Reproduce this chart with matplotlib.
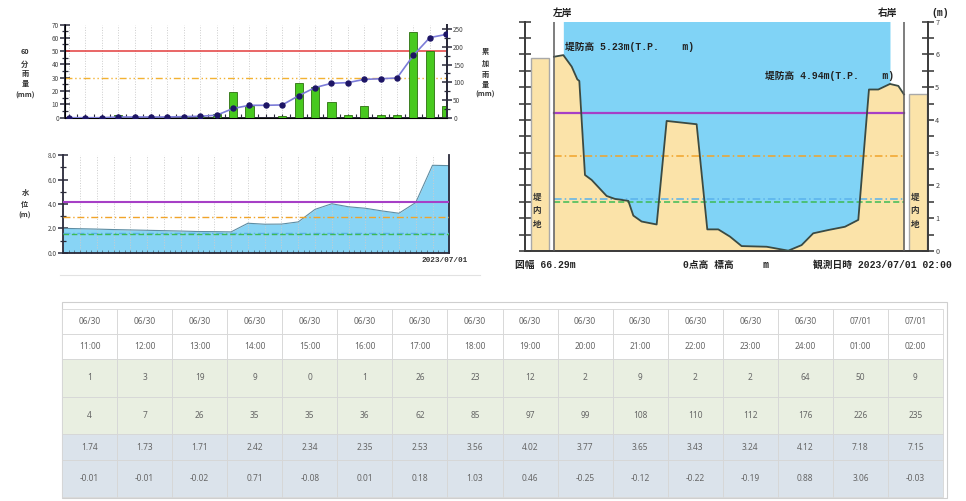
import numpy as np
import matplotlib
matplotlib.use('Agg')
import matplotlib.pyplot as plt
from matplotlib.patches import Rectangle
from matplotlib.ticker import MultipleLocator, FormatStrFormatter

CJK = ['Noto Sans CJK JP', 'DejaVu Sans']
MONO = ['Liberation Mono', 'Noto Sans CJK JP', 'DejaVu Sans']
plt.rcParams['font.family'] = CJK

# ---- table data (last 16 hours) ----
dates = ['06/30', '06/30', '06/30', '06/30', '06/30', '06/30', '06/30', '06/30',
         '06/30', '06/30', '06/30', '06/30', '06/30', '06/30', '07/01', '07/01']
times = ['11:00', '12:00', '13:00', '14:00', '15:00', '16:00', '17:00', '18:00',
         '19:00', '20:00', '21:00', '22:00', '23:00', '24:00', '01:00', '02:00']
rain_60 = [1, 3, 19, 9, 0, 1, 26, 23, 12, 2, 9, 2, 2, 64, 50, 9]
rain_cum = [4, 7, 26, 35, 35, 36, 62, 85, 97, 99, 108, 110, 112, 176, 226, 235]
level = [1.74, 1.73, 1.71, 2.42, 2.34, 2.35, 2.53, 3.56,
         4.02, 3.77, 3.65, 3.43, 3.24, 4.12, 7.18, 7.15]
level_change = [-0.01, -0.01, -0.02, 0.71, -0.08, 0.01, 0.18, 1.03,
                0.46, -0.25, -0.12, -0.22, -0.19, 0.88, 3.06, -0.03]

# 8 earlier hours shown only in the charts
rain_60_early = [0, 0, 0, 2, 0, 0, 0, 1]
rain_cum_early = [0, 0, 0, 2, 2, 2, 2, 3]
level_early = [2.00, 1.97, 1.94, 1.90, 1.87, 1.84, 1.81, 1.78]

rain_lines = [50, 30]
level_lines = [4.2, 2.9, 1.6, 1.5]

# ---- cross section (distance m, elevation m) ----
sec_x = [0.0, 1.77, 3.35, 4.42, 4.80, 5.87, 7.13, 9.97, 11.55, 14.08, 15.03, 16.60,
         19.45, 21.34, 27.02, 29.04, 31.12, 33.33, 35.54, 40.28, 44.38, 46.90, 49.10,
         51.95, 55.11, 57.64, 59.66, 61.43, 63.64, 65.22, 66.29]
sec_z = [5.93, 5.98, 5.63, 5.24, 5.19, 2.32, 2.17, 1.68, 1.59, 1.53, 1.08, 0.90,
         0.81, 3.97, 3.87, 0.66, 0.66, 0.44, 0.15, 0.13, 0.01, 0.18, 0.54,
         0.64, 0.74, 0.95, 4.93, 4.93, 5.10, 5.04, 4.78]
levee_left = 5.23
levee_right = 4.94
inland_left = 5.9
inland_right = 4.78
width_m = 66.29
obs_time = '2023/07/01 02:00'

W, H = 966, 501
fig = plt.figure(figsize=(W / 100, H / 100), dpi=100)


def px_axes(l, t, r, b):
    return fig.add_axes([l / W, 1 - b / H, (r - l) / W, (b - t) / H])


# overlay in pixel coordinates for labels and the table (drawn on top)
ov = fig.add_axes([0, 0, 1, 1])
ov.set_xlim(0, W)
ov.set_ylim(H, 0)
ov.axis('off')
ov.set_zorder(10)


def stack(x, ys, parts, size=5.2):
    for y, s in zip(ys, parts):
        ov.text(x, y, s, ha='center', va='center', fontsize=size,
                fontweight='bold', color='#333333', family=CJK)


AX = '#2a2a3a'
hours = np.arange(24)
rain_all = rain_60_early + rain_60
cum_all = rain_cum_early + rain_cum
level_all = level_early + level

# ---- 60 min rainfall ----
ax1 = px_axes(65, 24.5, 447, 117.7)
ax1.bar(hours, rain_all, width=0.5, color='#48c91f', edgecolor='#2c7010',
        linewidth=0.6, zorder=3)
ax1.axhline(rain_lines[0], color='#e33c3c', lw=1.1, zorder=2)
ax1.axhline(rain_lines[1], color='#f3b232', lw=1.0, ls=(0, (5, 2, 1, 2, 1, 2)), zorder=2)
ax1.set_xlim(-0.25, 23.05)
ax1.set_ylim(0, 70)
ax1.set_yticks(range(0, 71, 10))
ax1.yaxis.set_minor_locator(MultipleLocator(5))
ax1.set_xticks(hours)
ax1.xaxis.set_minor_locator(MultipleLocator(0.5))
ax1.grid(axis='x', ls=':', color='#cccccc', lw=0.7)
ax1.tick_params(axis='x', which='both', direction='in', length=3, width=0.8,
                labelbottom=False, color=AX)
ax1.tick_params(axis='y', which='major', direction='inout', length=7, width=1.1,
                labelsize=4.6, pad=1, color=AX, labelcolor='#444444')
ax1.tick_params(axis='y', which='minor', direction='inout', length=4, width=0.9, color=AX)
ax1.spines['top'].set_visible(False)
for s in ['left', 'right', 'bottom']:
    ax1.spines[s].set_color(AX)
    ax1.spines[s].set_linewidth(1.4)

ax1r = ax1.twinx()
ax1r.plot(hours, cum_all, color='#7c7cd8', lw=1.2, marker='o', ms=3.6,
          mfc='#1d1565', mec='#1d1565', zorder=4)
ax1r.set_ylim(0, 263)
ax1r.set_yticks(range(0, 251, 50))
ax1r.yaxis.set_minor_locator(MultipleLocator(25))
ax1r.tick_params(axis='y', which='major', direction='inout', length=7, width=1.1,
                 labelsize=4.6, pad=1, color=AX, labelcolor='#444444')
ax1r.tick_params(axis='y', which='minor', direction='inout', length=4, width=0.9, color=AX)
ax1r.spines['top'].set_visible(False)
ax1r.spines['right'].set_color(AX)
ax1r.spines['right'].set_linewidth(1.4)

stack(25, [51, 64, 73.5, 83, 95], ['60', '分', '雨', '量', '(mm)'])
stack(485, [51, 63, 74, 84, 94.5], ['累', '加', '雨', '量', '(mm)'])

# ---- water level ----
ax2 = px_axes(63.3, 155.3, 449.3, 252.7)
ax2.fill_between(hours, level_all, color='#88d4f5', lw=0, zorder=1)
ax2.plot(hours, level_all, color='#5d8da3', lw=0.8, zorder=2)
ax2.axhline(level_lines[0], color='#a63fc6', lw=1.5, zorder=3)
ax2.axhline(level_lines[1], color='#f1a42a', lw=1.0, ls=(0, (5, 2, 1, 2)), zorder=3)
ax2.axhline(level_lines[2], color='#5ab2ec', lw=1.0, ls=(0, (5, 2, 1, 2)), zorder=3)
ax2.axhline(level_lines[3], color='#3dbb55', lw=1.0, ls=(0, (4, 2)), zorder=3)
ax2.set_xlim(0, 23)
ax2.set_ylim(0, 8)
ax2.set_yticks(range(0, 9, 2))
ax2.yaxis.set_major_formatter(FormatStrFormatter('%.1f'))
ax2.yaxis.set_minor_locator(MultipleLocator(1))
ax2.set_xticks(hours)
ax2.xaxis.set_minor_locator(MultipleLocator(1 / 3))
ax2.grid(axis='x', ls=':', color='#cccccc', lw=0.7)
ax2.tick_params(axis='x', which='both', direction='in', length=2.5, width=0.6,
                labelbottom=False, color='#4d6f80')
ax2.tick_params(axis='y', which='major', direction='inout', length=7, width=1.1,
                labelsize=4.6, pad=1, color=AX, labelcolor='#444444')
ax2.tick_params(axis='y', which='minor', direction='inout', length=4, width=0.9, color=AX)
ax2.spines['top'].set_visible(False)
for s in ['left', 'right', 'bottom']:
    ax2.spines[s].set_color(AX)
    ax2.spines[s].set_linewidth(1.3)
ov.text(468, 260, '2023/07/01', ha='right', va='center', fontsize=5.6,
        fontweight='bold', family='Liberation Mono', color='#333333')
stack(25, [193, 204, 215], ['水', '位', '(m)'])
ov.plot([60, 480], [275, 275], color='#e2e2e2', lw=0.8)

# ---- cross section ----
ax3 = px_axes(525, 21.7, 928.3, 251)
LAND = '#fbe3a9'
ax3.fill_between(sec_x[1:29], sec_z[1:29], level[-1], color='#80d3f6', lw=0, zorder=1)
ax3.fill_between(sec_x, 0, sec_z, color=LAND, lw=0, zorder=2)
ax3.add_patch(Rectangle((-4.36, 0), 3.41, inland_left, fc=LAND, ec='#a9a9a9', lw=1.0, zorder=2))
ax3.add_patch(Rectangle((67.23, 0), 3.41, inland_right, fc=LAND, ec='#a9a9a9', lw=1.0, zorder=2))
ax3.plot([0, width_m], [level_lines[0]] * 2, color='#a63fc6', lw=1.6, zorder=3)
ax3.plot([0, width_m], [level_lines[1]] * 2, color='#f1a42a', lw=1.1, ls=(0, (5, 2, 1, 2)), zorder=3)
ax3.plot([0, width_m], [level_lines[2]] * 2, color='#5ab2ec', lw=1.1, ls=(0, (5, 2, 1, 2)), zorder=3)
ax3.plot([0, width_m], [level_lines[3]] * 2, color='#3dbb55', lw=1.1, ls=(0, (4, 2)), zorder=3)
ax3.plot(sec_x, sec_z, color='#3b4a42', lw=1.3, zorder=5)
ax3.axvline(0, color='#5a5a5a', lw=1.1, zorder=6)
ax3.axvline(width_m, color='#5a5a5a', lw=1.1, zorder=6)
ax3.set_xlim(-5.49, 70.9)
ax3.set_ylim(0, 7)
ax3.set_xticks([])
ax3.set_yticks(range(0, 8))
ax3.yaxis.set_minor_locator(MultipleLocator(0.5))
ax3.yaxis.set_ticks_position('both')
ax3.tick_params(axis='y', which='both', direction='inout', labelleft=False,
                labelright=True, labelsize=5.2, pad=1, color='#333333', labelcolor='#444444')
ax3.tick_params(axis='y', which='major', length=8, width=1.1)
ax3.tick_params(axis='y', which='minor', length=8, width=1.1)
ax3.spines['top'].set_visible(False)
for s in ['left', 'right', 'bottom']:
    ax3.spines[s].set_color('#3a3a3a')
    ax3.spines[s].set_linewidth(1.4)

tkw = dict(fontsize=7, fontweight='bold', color='#222222', va='center', family=MONO)
ov.text(553, 13, '左岸', ha='left', **tkw)
ov.text(897, 13, '右岸', ha='right', **tkw)
ov.text(949, 13, '(m)', ha='right', **tkw)
ov.text(565, 47, f'堤防高 {levee_left:.2f}m(T.P.    m)', ha='left', **tkw)
ov.text(765, 76, f'堤防高 {levee_right:.2f}m(T.P.    m)', ha='left', **tkw)
ov.text(515, 265, f'図幅 {width_m:.2f}m', ha='left', **tkw)
ov.text(683, 265, '0点高 標高     m', ha='left', **tkw)
ov.text(952, 265, f'観測日時 {obs_time}', ha='right', **tkw)
stack(537, [197, 211, 224], ['堤', '内', '地'], size=6.2)
stack(915, [197, 211, 224], ['堤', '内', '地'], size=6.2)

# ---- table ----
col_edges = np.linspace(62, 943, len(times) + 1)
row_edges = [309, 334, 359, 397, 434, 460, 497]
row_bg = ['white', 'white', '#e9efe1', '#e9efe1', '#dbe3eb', '#dbe3eb']
rows = [dates, times,
        [str(v) for v in rain_60],
        [str(v) for v in rain_cum],
        [f'{v:.2f}' for v in level],
        [f'{v:.2f}' for v in level_change]]
ov.add_patch(Rectangle((62, 302), 885, 196, fc='white', ec='#cfcfcf', lw=0.8, zorder=1))
for i, vals in enumerate(rows):
    y0, y1 = row_edges[i], row_edges[i + 1]
    for j, s in enumerate(vals):
        x0, x1 = col_edges[j], col_edges[j + 1]
        ov.add_patch(Rectangle((x0, y0), x1 - x0, y1 - y0, fc=row_bg[i],
                               ec='#d6d6d6', lw=0.6, zorder=2))
        ov.text((x0 + x1) / 2, (y0 + y1) / 2, s, ha='center', va='center',
                fontsize=6.0, color='#666666', family='Noto Sans', zorder=3)

fig.savefig('out.png', dpi=100)
